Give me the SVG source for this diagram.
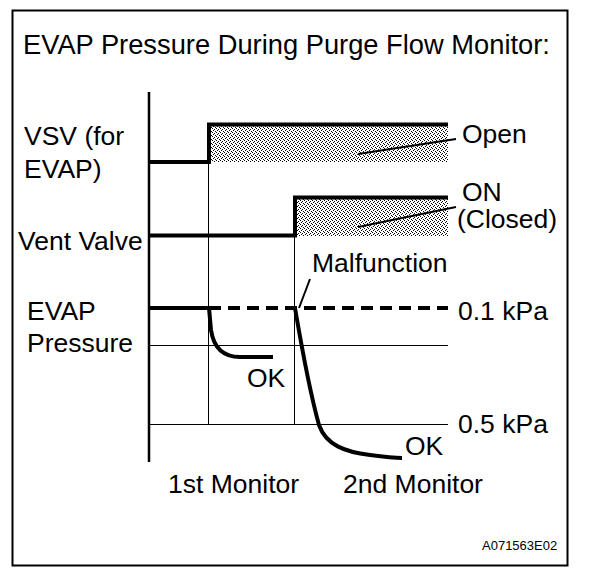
<svg xmlns="http://www.w3.org/2000/svg" width="608" height="580" viewBox="0 0 608 580">
<style>
text{font-family:"Liberation Sans",Arial,sans-serif;font-size:26.5px;fill:#000}
text.title{font-size:27.3px}
text.code{font-size:13px}
.thin{stroke:#000;stroke-width:1;fill:none}
.thick{stroke:#000;stroke-width:4;fill:none}
.lead{stroke:#000;stroke-width:2;fill:none}
</style>
<defs>
<pattern id="dots" width="4" height="4" patternUnits="userSpaceOnUse">
<rect x="0" y="0" width="1" height="1" fill="#000"/>
<rect x="2" y="1" width="1" height="1" fill="#000"/>
<rect x="1" y="2" width="1" height="1" fill="#000"/>
<rect x="3" y="3" width="1" height="1" fill="#000"/>
</pattern>
</defs>
<rect x="0" y="0" width="608" height="580" fill="#fff"/>
<rect x="12.5" y="10.5" width="555" height="555" fill="none" stroke="#000" stroke-width="2"/>
<text class="title" x="23" y="54">EVAP Pressure During Purge Flow Monitor:</text>

<g id="axes">
<line x1="149" y1="92" x2="149" y2="462" stroke="#000" stroke-width="2.5"/>
<line class="thin" x1="149" y1="345.5" x2="448" y2="345.5"/>
<line class="thin" x1="149" y1="424.5" x2="448" y2="424.5"/>
<line class="thin" x1="208.5" y1="124" x2="208.5" y2="424"/>
<line class="thin" x1="294.5" y1="197" x2="294.5" y2="424"/>
</g>

<g id="vsv">
<rect x="209" y="126" width="239" height="36" fill="url(#dots)"/>
<polyline class="thick" points="149,162 209,162 209,124.5 448,124.5"/>
<text x="24" y="145">VSV (for</text>
<text x="24" y="178">EVAP)</text>
<text x="462" y="143">Open</text>
<line class="lead" x1="358" y1="154" x2="456" y2="139"/>
</g>

<g id="vent">
<rect x="295" y="199" width="153" height="37" fill="url(#dots)"/>
<polyline class="thick" points="149,235.5 295,235.5 295,197.5 448,197.5"/>
<text x="18" y="250">Vent Valve</text>
<text x="462" y="201">ON</text>
<text x="457" y="228">(Closed)</text>
<line class="lead" x1="358" y1="227" x2="456" y2="207"/>
</g>

<g id="pressure">
<text x="27" y="320">EVAP</text>
<text x="27" y="352">Pressure</text>
<line class="thick" x1="149" y1="308" x2="209" y2="308"/>
<line class="thick" x1="209" y1="308" x2="448" y2="308" stroke-dasharray="12,7"/>
<text x="458" y="320">0.1 kPa</text>
<text x="458" y="433">0.5 kPa</text>
<path class="thick" d="M209,308 L211,330 C214,350 225,357 240,357 L273,357"/>
<text x="247" y="387">OK</text>
<path class="thick" d="M295,308 C303,355 312,400 319,425 C326,445 345,452 370,455 C385,457 395,458 402,458"/>
<text x="405" y="455">OK</text>
<line class="lead" x1="299" y1="308" x2="310" y2="279"/>
<text x="312" y="272">Malfunction</text>
</g>

<g id="labels">
<text x="168" y="493">1st Monitor</text>
<text x="343" y="493">2nd Monitor</text>
<text class="code" x="482" y="550">A071563E02</text>
</g>
</svg>
